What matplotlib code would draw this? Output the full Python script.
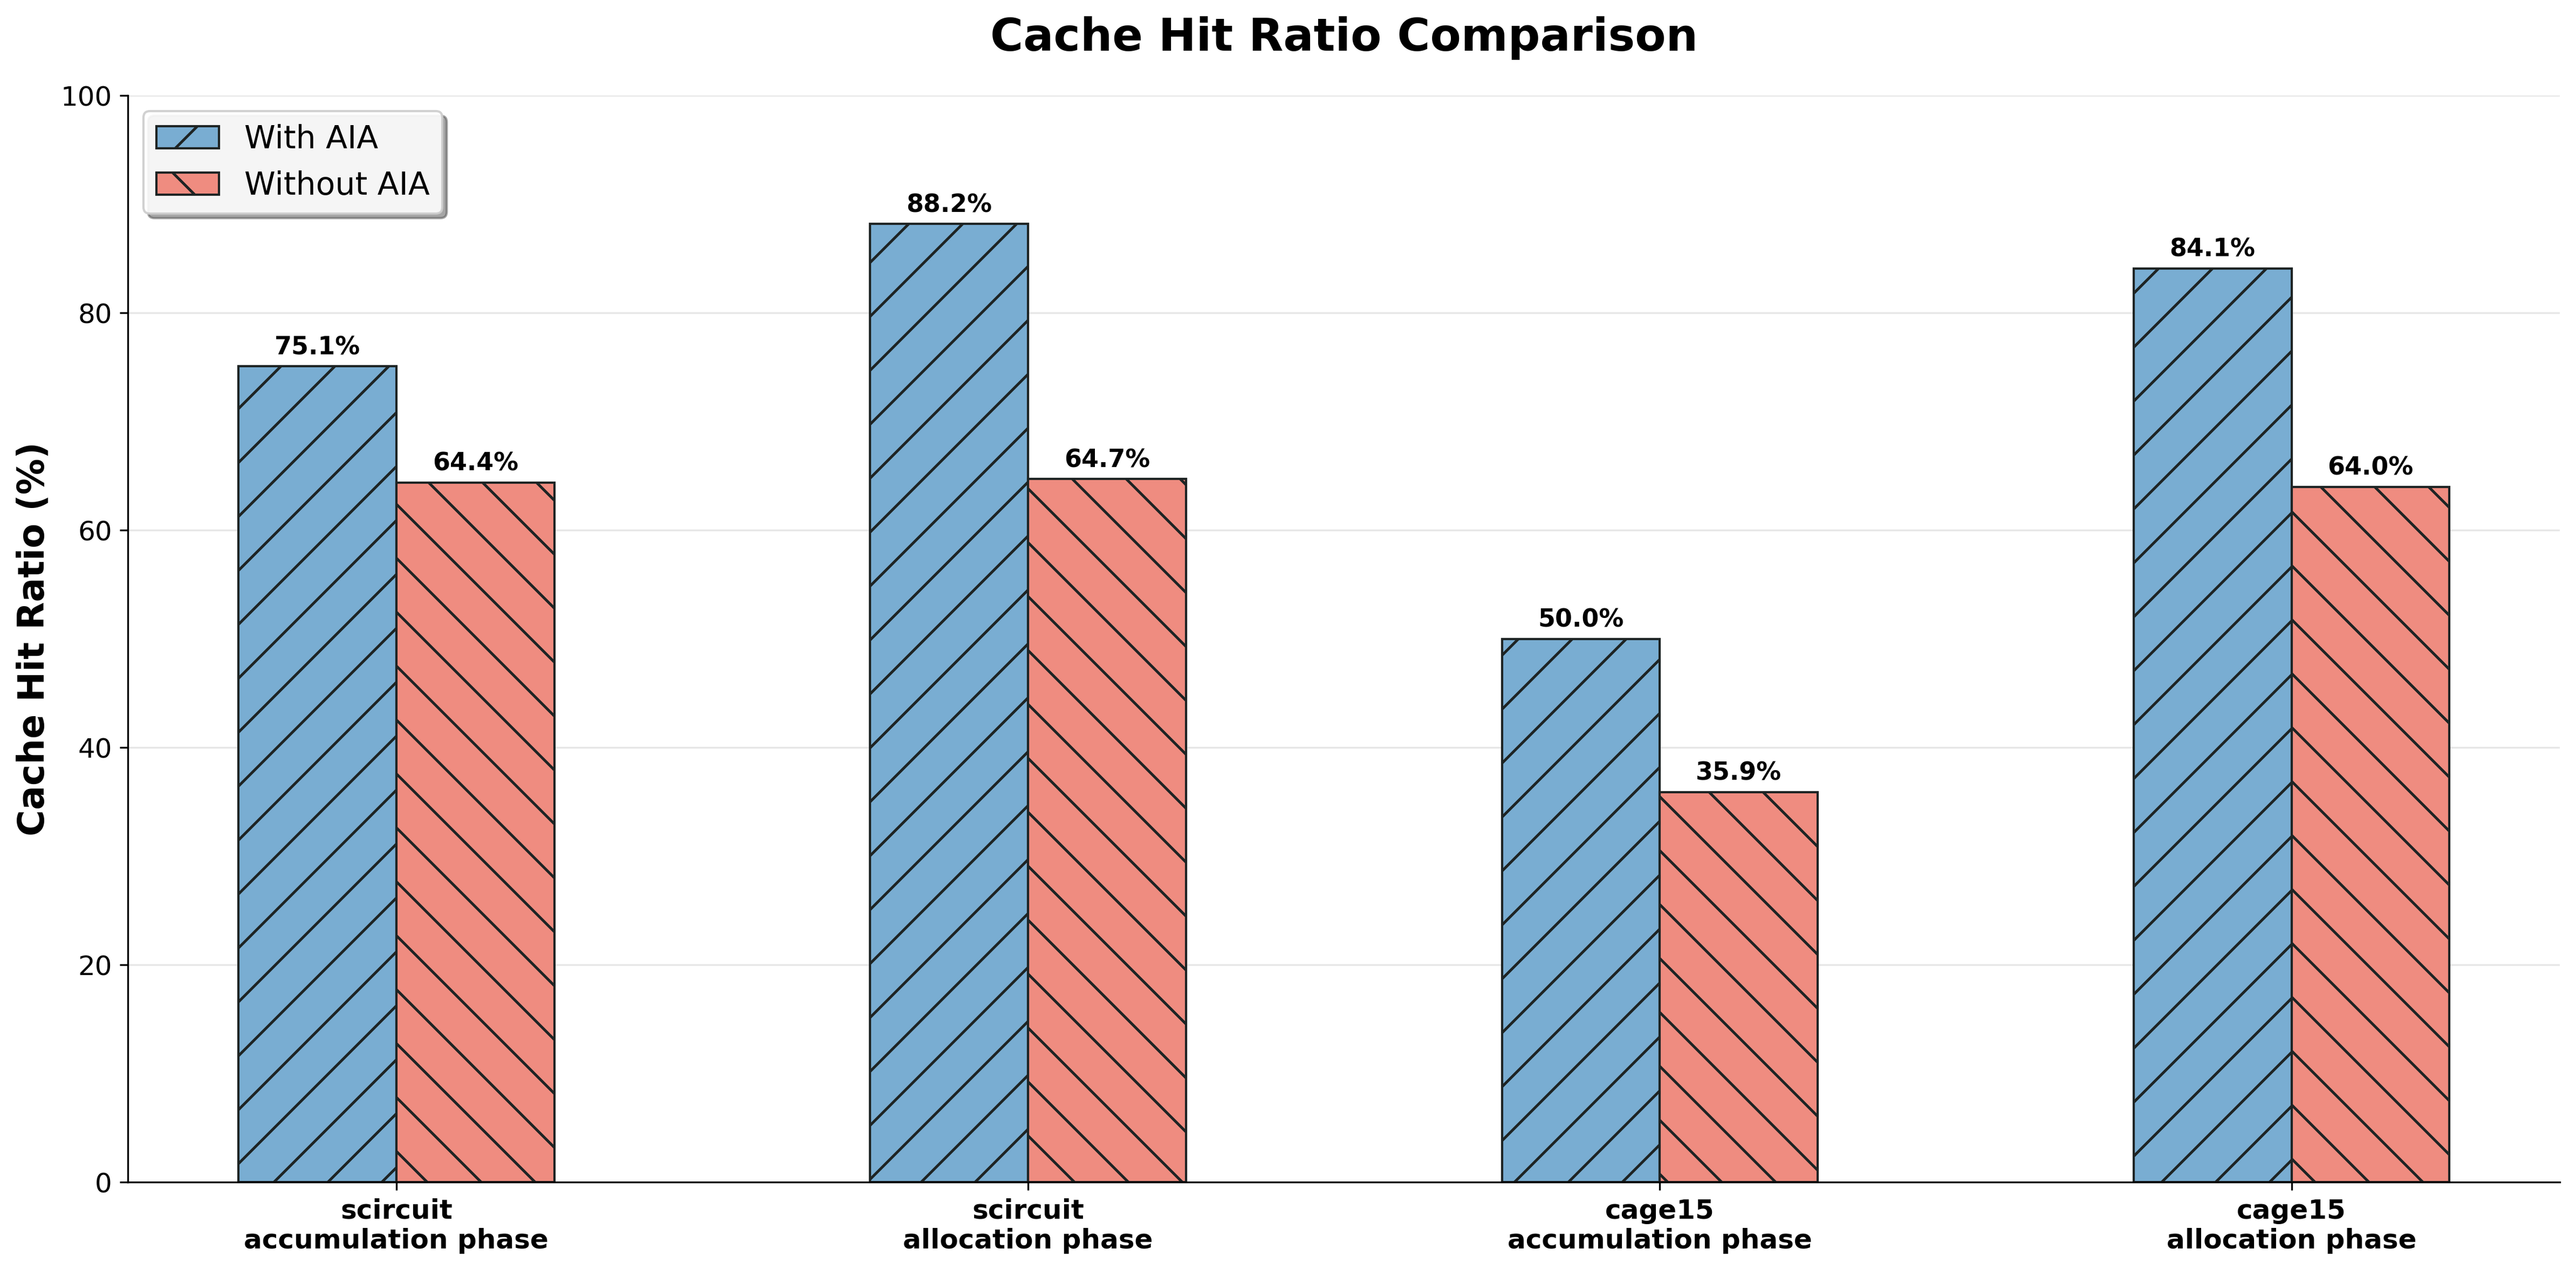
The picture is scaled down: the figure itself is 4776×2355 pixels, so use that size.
import matplotlib
matplotlib.use("Agg")
import matplotlib.pyplot as plt
import numpy as np

# data
categories = ["scircuit\naccumulation phase", "scircuit\nallocation phase",
              "cage15\naccumulation phase", "cage15\nallocation phase"]
with_aia = [75.1, 88.2, 50.0, 84.1]
without_aia = [64.4, 64.7, 35.9, 64.0]

BLUE = "#79add2"
RED = "#ef8c80"

matplotlib.rcParams['hatch.linewidth'] = 1.2

fig, ax = plt.subplots(figsize=(16, 8))
x = np.arange(len(categories))
width = 0.25

b1 = ax.bar(x - width / 2, with_aia, width, label="With AIA", color=BLUE,
            edgecolor="#1e2424", linewidth=1.0, hatch="/")
b2 = ax.bar(x + width / 2, without_aia, width, label="Without AIA", color=RED,
            edgecolor="#1e2424", linewidth=1.0, hatch="\\")

for bars in (b1, b2):
    for bar in bars:
        h = bar.get_height()
        ax.text(bar.get_x() + bar.get_width() / 2, h + 0.6, "{:.1f}%".format(h),
                ha="center", va="bottom", fontsize=11, fontweight="bold")

ax.set_title("Cache Hit Ratio Comparison", fontsize=20, fontweight="bold", pad=20)
ax.set_ylabel("Cache Hit Ratio (%)", fontsize=16, fontweight="bold")
ax.set_xticks(x)
ax.set_xticklabels(categories, fontsize=12, fontweight="bold")
ax.tick_params(axis="y", labelsize=12)
ax.set_ylim(0, 100)
ax.yaxis.grid(True, alpha=0.3)
ax.set_axisbelow(True)
ax.spines["top"].set_visible(False)
ax.spines["right"].set_visible(False)
ax.legend(loc="upper left", fontsize=14, shadow=True, fancybox=True, framealpha=0.9)

plt.tight_layout()
plt.savefig("out.png", dpi=300, bbox_inches="tight")
plt.close(fig)
